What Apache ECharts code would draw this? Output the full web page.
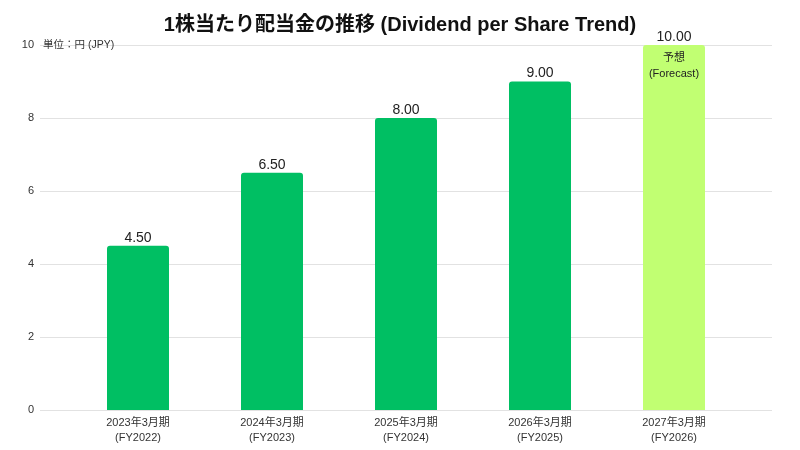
<!DOCTYPE html>
<html>
<head>
<meta charset="utf-8">
<script src="https://cdn.jsdelivr.net/npm/echarts@6/dist/echarts.min.js"></script>
<style>
  html, body { margin: 0; padding: 0; background: #fff; }
  #main { width: 800px; height: 450px; }
</style>
</head>
<body>
<div id="main"></div>
<script>
// データ
const periods = ['2023年3月期\n(FY2022)', '2024年3月期\n(FY2023)', '2025年3月期\n(FY2024)', '2026年3月期\n(FY2025)', '2027年3月期\n(FY2026)'];
const dividends = [4.5, 6.5, 8.0, 9.0, 10.0];
const isForecast = [false, false, false, false, true];
const forecastNote = '予想\n(Forecast)';
const yTicks = [0, 2, 4, 6, 8, 10];

(function() {
    const chart = echarts.init(document.getElementById('main'));
    const font = '"Liberation Sans", "Noto Sans CJK JP", sans-serif';

    let barData = dividends.map(function(v, i) {
        return {
            value: v,
            itemStyle: {color: isForecast[i] ? '#c1ff72' : '#00bf63'}
        };
    });
    let noteData = dividends.map(function(v, i) {
        return {
            value: v,
            label: {show: isForecast[i]}
        };
    });

    const option = {
        backgroundColor: '#ffffff',
        textStyle: {fontFamily: font},
        title: {
            text: '1株当たり配当金の推移 (Dividend per Share Trend)',
            left: 'center',
            top: 10,
            textStyle: {fontSize: 20, fontWeight: 'bold', color: '#111', fontFamily: font}
        },
        grid: [
            {left: 40, right: 28, top: 45, bottom: 40},
            {left: 71, right: 59, top: 45, bottom: 40}
        ],
        xAxis: [
            {gridIndex: 0, type: 'value', show: false, min: 0, max: 1},
            {
                gridIndex: 1,
                type: 'category',
                data: periods,
                axisLine: {show: false},
                axisTick: {show: false},
                axisLabel: {fontSize: 11, color: '#333', lineHeight: 15, margin: 5}
            }
        ],
        yAxis: [
            {
                gridIndex: 0,
                type: 'value',
                min: yTicks[0],
                max: yTicks[yTicks.length - 1],
                interval: 2,
                name: '単位：円 (JPY)',
                nameLocation: 'end',
                nameGap: 0,
                nameTextStyle: {align: 'left', verticalAlign: 'middle', fontSize: 10.5, color: '#333', padding: [0, 0, 0, 3]},
                axisLine: {show: false},
                axisTick: {show: false},
                axisLabel: {fontSize: 11, color: '#333', margin: 6, padding: [2, 0, 0, 0]},
                splitLine: {lineStyle: {color: '#e2e2e2', width: 1}}
            },
            {gridIndex: 1, type: 'value', show: false, min: 0, max: 10}
        ],
        series: [
            {
                type: 'bar',
                xAxisIndex: 1,
                yAxisIndex: 1,
                data: barData,
                barWidth: 62,
                itemStyle: {borderRadius: [3, 3, 0, 0]},
                label: {
                    show: true,
                    position: 'top',
                    distance: 1,
                    fontSize: 14,
                    color: '#222',
                    formatter: function(p) { return p.value.toFixed(2); }
                }
            },
            {
                type: 'bar',
                xAxisIndex: 1,
                yAxisIndex: 1,
                data: noteData,
                barWidth: 62,
                barGap: '-100%',
                itemStyle: {color: 'rgba(0,0,0,0)'},
                silent: true,
                label: {
                    position: 'insideTop',
                    distance: 5,
                    fontSize: 11,
                    lineHeight: 16,
                    color: '#222',
                    formatter: forecastNote
                }
            }
        ]
    };
    chart.setOption(option);
})();
</script>
</body>
</html>
